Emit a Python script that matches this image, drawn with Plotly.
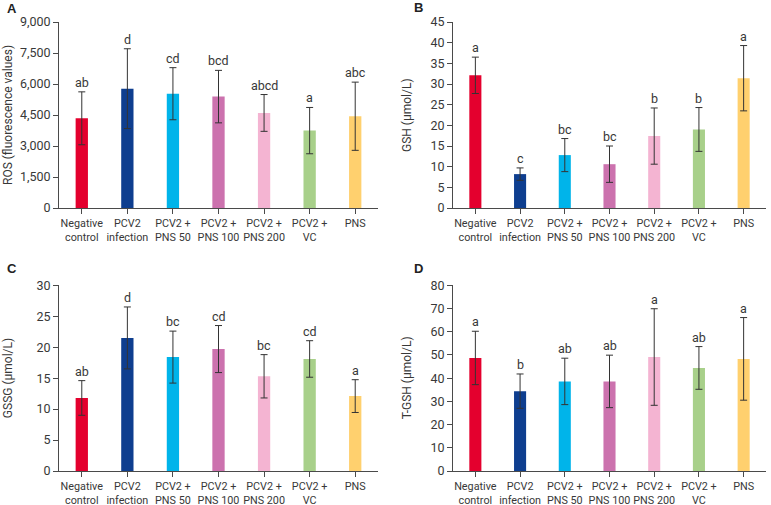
import plotly.graph_objects as go

categories = ["Negative<br>control", "PCV2<br>infection", "PCV2 +<br>PNS 50", "PCV2 +<br>PNS 100",
              "PCV2 +<br>PNS 200", "PCV2 +<br>VC", "PNS"]
colors = ["#E4002E", "#0E3E8F", "#00B4EA", "#CC72AE", "#F4B4D2", "#A8D08A", "#FFD06E"]

ros_mean = [4340, 5775, 5530, 5390, 4600, 3745, 4440]
ros_err = [1280, 1930, 1260, 1270, 890, 1120, 1650]
ros_letters = ["ab", "d", "cd", "bcd", "abcd", "a", "abc"]

gsh_mean = [32.1, 8.2, 12.8, 10.6, 17.4, 19.0, 31.4]
gsh_err = [4.4, 1.5, 4.0, 4.4, 6.8, 5.3, 7.9]
gsh_letters = ["a", "c", "bc", "bc", "b", "b", "a"]

gssg_mean = [11.8, 21.5, 18.4, 19.7, 15.3, 18.1, 12.1]
gssg_err = [2.8, 5.0, 4.2, 3.8, 3.5, 2.95, 2.65]
gssg_letters = ["ab", "d", "bc", "cd", "bc", "cd", "a"]

tgsh_mean = [48.7, 34.4, 38.6, 38.6, 49.1, 44.4, 48.3]
tgsh_err = [11.5, 7.4, 10.0, 11.3, 20.8, 9.2, 17.8]
tgsh_letters = ["a", "b", "ab", "ab", "a", "ab", "a"]

panels = [
    dict(mean=ros_mean, err=ros_err, letters=ros_letters, title="ROS (fluorescence values)",
         rng=[0, 9000], dtick=1500, fmt=",", label="A"),
    dict(mean=gsh_mean, err=gsh_err, letters=gsh_letters, title="GSH (μmol/L)",
         rng=[0, 45], dtick=5, fmt="", label="B"),
    dict(mean=gssg_mean, err=gssg_err, letters=gssg_letters, title="GSSG (μmol/L)",
         rng=[0, 30], dtick=5, fmt="", label="C"),
    dict(mean=tgsh_mean, err=tgsh_err, letters=tgsh_letters, title="T-GSH (μmol/L)",
         rng=[0, 80], dtick=10, fmt="", label="D"),
]

W, H = 771, 505
# pixel boxes: (left, right, top, bottom)
boxes = [(59, 378, 22, 208), (453, 766, 22, 208), (59, 378, 285.3, 471), (453, 766, 285.3, 471)]
label_pos = [(5, 8), (412, 7), (5, 268), (412, 268)]
title_x = [8, 407, 8, 407]

FONT = "Roboto"
TXT = "#383838"
AX = "#4a4a4a"

fig = go.Figure()
annotations = []
layout = dict(width=W, height=H, margin=dict(l=0, r=0, t=0, b=0, autoexpand=False),
              paper_bgcolor="white", plot_bgcolor="white", showlegend=False,
              bargap=0.73, font=dict(family=FONT, color=TXT, size=12))

for i, p in enumerate(panels):
    n = "" if i == 0 else str(i + 1)
    xa, ya = "x" + n, "y" + n
    fig.add_trace(go.Bar(
        x=categories, y=p["mean"], xaxis=xa, yaxis=ya,
        marker=dict(color=colors, line=dict(width=0)),
        error_y=dict(type="data", array=p["err"], visible=True, color="#333333",
                     thickness=1, width=3.5),
        hoverinfo="y"))
    l, r, t, b = boxes[i]
    layout["xaxis" + n] = dict(
        domain=[l / W, r / W], anchor=ya, type="category", range=[-0.5, 6.5],
        showline=True, linecolor=AX, linewidth=1, ticks="outside", ticklen=5,
        tickcolor=AX, tickangle=0, automargin=False,
        tickfont=dict(size=10.8, color=TXT, family=FONT), showgrid=False,
        zeroline=False, fixedrange=True)
    layout["yaxis" + n] = dict(
        domain=[1 - b / H, 1 - t / H], anchor=xa, range=p["rng"], dtick=p["dtick"],
        tickformat=p["fmt"], showline=True, linecolor=AX, linewidth=1, ticks="outside",
        ticklen=5, tickcolor=AX, automargin=False,
        tickfont=dict(size=12.5, color=TXT, family=FONT),
        showgrid=False, zeroline=False, fixedrange=True)
    for j, c in enumerate(categories):
        annotations.append(dict(
            x=c, y=p["mean"][j] + p["err"][j], xref=xa, yref=ya, text=p["letters"][j],
            showarrow=False, yanchor="bottom", yshift=0,
            font=dict(size=12.5, color=TXT, family=FONT)))
    # y title
    annotations.append(dict(
        x=title_x[i] / W, y=1 - (t + b) / 2 / H, xref="paper", yref="paper",
        text=p["title"], textangle=-90, showarrow=False, xanchor="center", yanchor="middle",
        font=dict(size=12, color=TXT, family=FONT)))
    lx, ly = label_pos[i]
    annotations.append(dict(
        x=lx / W, y=1 - ly / H, xref="paper", yref="paper", text="<b>" + p["label"] + "</b>",
        showarrow=False, xanchor="left", yanchor="middle",
        font=dict(size=13, color="#222222", family="Liberation Sans")))

layout["annotations"] = annotations
fig.update_layout(**layout)
fig.write_html("out.html", config={"displayModeBar": False},
               post_script="document.body.style.margin='0';document.body.style.padding='0';")
